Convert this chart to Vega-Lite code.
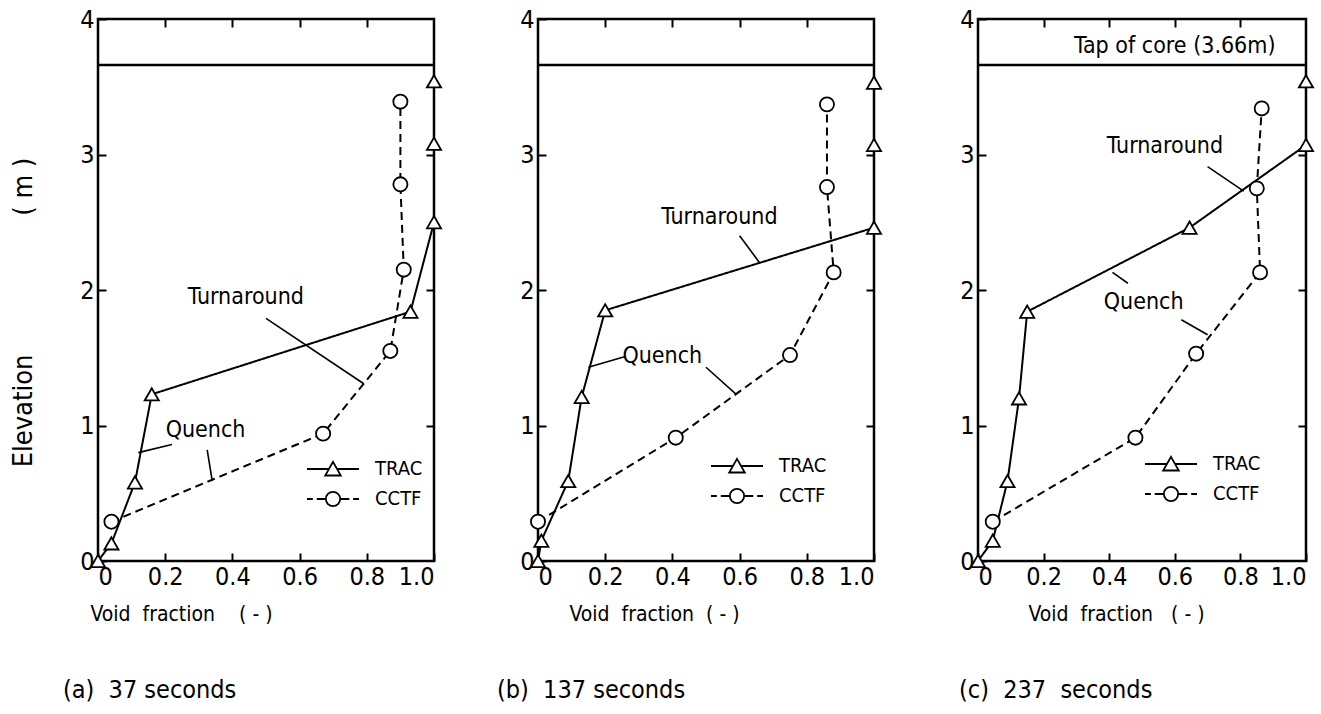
{
  "$schema": "https://vega.github.io/schema/vega-lite/v6.json",
  "background": "white",
  "padding": {"left": 7, "top": 5, "right": 5, "bottom": 5},
  "datasets": {
    "pts": [
      {"p": "a", "s": "TRAC", "v": 0.0, "e": 0.0},
      {"p": "a", "s": "TRAC", "v": 0.04, "e": 0.13},
      {"p": "a", "s": "TRAC", "v": 0.11, "e": 0.58},
      {"p": "a", "s": "TRAC", "v": 0.16, "e": 1.23},
      {"p": "a", "s": "TRAC", "v": 0.93, "e": 1.84},
      {"p": "a", "s": "TRAC", "v": 1.0, "e": 2.5},
      {"p": "a", "s": "TRAC", "v": 1.0, "e": 3.08},
      {"p": "a", "s": "TRAC", "v": 1.0, "e": 3.54},
      {"p": "a", "s": "CCTF", "v": 0.04, "e": 0.29},
      {"p": "a", "s": "CCTF", "v": 0.67, "e": 0.94},
      {"p": "a", "s": "CCTF", "v": 0.87, "e": 1.55},
      {"p": "a", "s": "CCTF", "v": 0.91, "e": 2.15},
      {"p": "a", "s": "CCTF", "v": 0.9, "e": 2.78},
      {"p": "a", "s": "CCTF", "v": 0.9, "e": 3.39},
      {"p": "b", "s": "TRAC", "v": 0.0, "e": 0.0},
      {"p": "b", "s": "TRAC", "v": 0.01, "e": 0.15},
      {"p": "b", "s": "TRAC", "v": 0.09, "e": 0.59},
      {"p": "b", "s": "TRAC", "v": 0.13, "e": 1.21},
      {"p": "b", "s": "TRAC", "v": 0.2, "e": 1.85},
      {"p": "b", "s": "TRAC", "v": 1.0, "e": 2.46},
      {"p": "b", "s": "TRAC", "v": 1.0, "e": 3.07},
      {"p": "b", "s": "TRAC", "v": 1.0, "e": 3.53},
      {"p": "b", "s": "CCTF", "v": 0.0, "e": 0.29},
      {"p": "b", "s": "CCTF", "v": 0.41, "e": 0.91},
      {"p": "b", "s": "CCTF", "v": 0.75, "e": 1.52},
      {"p": "b", "s": "CCTF", "v": 0.88, "e": 2.13},
      {"p": "b", "s": "CCTF", "v": 0.86, "e": 2.76},
      {"p": "b", "s": "CCTF", "v": 0.86, "e": 3.37},
      {"p": "c", "s": "TRAC", "v": 0.0, "e": 0.0},
      {"p": "c", "s": "TRAC", "v": 0.045, "e": 0.15},
      {"p": "c", "s": "TRAC", "v": 0.09, "e": 0.59},
      {"p": "c", "s": "TRAC", "v": 0.125, "e": 1.2},
      {"p": "c", "s": "TRAC", "v": 0.15, "e": 1.84},
      {"p": "c", "s": "TRAC", "v": 0.645, "e": 2.46},
      {"p": "c", "s": "TRAC", "v": 1.0, "e": 3.07},
      {"p": "c", "s": "TRAC", "v": 1.0, "e": 3.54},
      {"p": "c", "s": "CCTF", "v": 0.045, "e": 0.29},
      {"p": "c", "s": "CCTF", "v": 0.48, "e": 0.91},
      {"p": "c", "s": "CCTF", "v": 0.665, "e": 1.53},
      {"p": "c", "s": "CCTF", "v": 0.86, "e": 2.13},
      {"p": "c", "s": "CCTF", "v": 0.85, "e": 2.75},
      {"p": "c", "s": "CCTF", "v": 0.865, "e": 3.34}
    ],
    "notes": [
      {"p": "a", "t": "Turnaround", "v": 0.44, "e": 1.95},
      {"p": "a", "t": "Quench", "v": 0.32, "e": 0.97},
      {"p": "b", "t": "Turnaround", "v": 0.54, "e": 2.54},
      {"p": "b", "t": "Quench", "v": 0.37, "e": 1.51},
      {"p": "c", "t": "Tap of core (3.66m)", "v": 0.6, "e": 3.8},
      {"p": "c", "t": "Turnaround", "v": 0.57, "e": 3.06},
      {"p": "c", "t": "Quench", "v": 0.505, "e": 1.91}
    ],
    "arrows": [
      {"p": "a", "v": 0.5, "e": 1.79, "v2": 0.79, "e2": 1.31},
      {"p": "a", "v": 0.22, "e": 0.86, "v2": 0.12, "e2": 0.8},
      {"p": "a", "v": 0.325, "e": 0.82, "v2": 0.34, "e2": 0.59},
      {"p": "b", "v": 0.6, "e": 2.4, "v2": 0.66, "e2": 2.2},
      {"p": "b", "v": 0.26, "e": 1.51, "v2": 0.15, "e2": 1.43},
      {"p": "b", "v": 0.5, "e": 1.43, "v2": 0.59, "e2": 1.23},
      {"p": "c", "v": 0.7, "e": 2.91, "v2": 0.81, "e2": 2.73},
      {"p": "c", "v": 0.457, "e": 2.05, "v2": 0.41, "e2": 2.13},
      {"p": "c", "v": 0.62, "e": 1.78, "v2": 0.7, "e2": 1.67}
    ],
    "core": [
      {"p": "a", "e": 3.66},
      {"p": "b", "e": 3.66},
      {"p": "c", "e": 3.66}
    ]
  },
  "bounds": "flush",
  "spacing": 104,
  "hconcat": [
    {
      "width": 336, "height": 542,
      "title": {"text": "(a)\u00a0\u00a037\u00a0seconds", "orient": "bottom", "anchor": "start", "frame": "group", "dx": -35, "offset": 54},
      "layer": [
        {"data": {"name": "core"}, "transform": [{"filter": "datum.p == 'a'"}],
         "mark": {"type": "rule", "color": "black", "strokeWidth": 2.5},
         "encoding": {"y": {"field": "e", "type": "quantitative", "scale": {"domain": [0, 4], "nice": false}, "axis": null}}},
        {"data": {"name": "pts"}, "transform": [{"filter": "datum.p == 'a'"}],
         "mark": {"type": "line", "color": "black", "strokeWidth": 2},
         "encoding": {
           "x": {"field": "v", "type": "quantitative", "scale": {"domain": [0, 1], "nice": false},
                 "axis": {"orient": "bottom", "values": [0, 0.2, 0.4, 0.6, 0.8, 1], "labelExpr": "datum.value == 0 ? '0' : format(datum.value, '.1f')", "title": "Void\u00a0\u00a0fraction\u00a0\u00a0\u00a0\u00a0(\u00a0-\u00a0)", "titleX": 83, "titleY": 53, "titleAlign": "center", "titleBaseline": "middle"}},
           "y": {"field": "e", "type": "quantitative", "scale": {"domain": [0, 4], "nice": false},
                 "axis": {"orient": "left", "values": [0, 1, 2, 3, 4], "title": "Elevation\u00a0\u00a0\u00a0\u00a0\u00a0\u00a0\u00a0\u00a0\u00a0\u00a0\u00a0\u00a0\u00a0\u00a0\u00a0\u00a0\u00a0\u00a0(\u00a0m\u00a0)", "titleFontSize": 27, "titleX": -75, "titleY": 293, "titleAlign": "center", "titleBaseline": "middle", "titleAngle": -90}},
           "strokeDash": {"field": "s", "type": "nominal", "scale": {"domain": ["TRAC", "CCTF"], "range": [[1, 0], [8, 5]]}, "legend": null},
           "order": {"field": "e", "type": "quantitative"}
         }},
        {"data": {"name": "pts"}, "transform": [{"filter": "datum.p == 'a'"}],
         "mark": {"type": "point", "filled": true, "fill": "white", "stroke": "black", "strokeWidth": 1.8, "size": 200, "opacity": 1},
         "encoding": {
           "x": {"field": "v", "type": "quantitative", "axis": {"orient": "top", "values": [0.2, 0.4, 0.6, 0.8], "labels": false, "title": null}},
           "y": {"field": "e", "type": "quantitative", "axis": {"orient": "right", "values": [1, 2, 3], "labels": false, "title": null}},
           "shape": {"field": "s", "type": "nominal", "scale": {"domain": ["TRAC", "CCTF"], "range": ["triangle-up", "circle"]}, "legend": null}
         }},
        {"data": {"name": "pts"}, "transform": [{"filter": "false"}],
         "mark": {"type": "point", "filled": false, "color": "black", "strokeWidth": 1.8, "size": 676, "opacity": 1},
         "encoding": {
           "x": {"field": "v", "type": "quantitative", "axis": null},
           "y": {"field": "e", "type": "quantitative", "axis": null},
           "shape": {"field": "s", "type": "nominal", "scale": {"domain": ["TRAC", "CCTF"], "range": ["M-2,0H-0.31M0.31,0H2M0,-0.55L0.6,0.5L-0.6,0.5Z", "M-2,0H-1.55M-1.25,0H-0.55M0.55,0H1.25M1.55,0H2M0.55,0A0.55,0.55,0,1,1,-0.55,0A0.55,0.55,0,1,1,0.55,0Z"]},
                     "legend": {"orient": "none", "legendX": 221, "legendY": 436}}
         }},
        {"data": {"name": "notes"}, "transform": [{"filter": "datum.p == 'a'"}],
         "mark": {"type": "text", "fontSize": 23, "color": "black", "align": "center", "baseline": "middle"},
         "encoding": {"x": {"field": "v", "type": "quantitative", "axis": null}, "y": {"field": "e", "type": "quantitative", "axis": null}, "text": {"field": "t"}}},
        {"data": {"name": "arrows"}, "transform": [{"filter": "datum.p == 'a'"}],
         "mark": {"type": "rule", "color": "black", "strokeWidth": 1.6},
         "encoding": {"x": {"field": "v", "type": "quantitative", "axis": null}, "y": {"field": "e", "type": "quantitative", "axis": null}, "x2": {"field": "v2"}, "y2": {"field": "e2"}}}
      ],
      "resolve": {"axis": {"x": "independent", "y": "independent"}, "scale": {"shape": "independent"}, "legend": {"shape": "independent"}}
    },
    {
      "width": 336, "height": 542,
      "title": {"text": "(b)\u00a0\u00a0137\u00a0seconds", "orient": "bottom", "anchor": "start", "frame": "group", "dx": -41, "offset": 54},
      "layer": [
        {"data": {"name": "core"}, "transform": [{"filter": "datum.p == 'b'"}],
         "mark": {"type": "rule", "color": "black", "strokeWidth": 2.5},
         "encoding": {"y": {"field": "e", "type": "quantitative", "scale": {"domain": [0, 4], "nice": false}, "axis": null}}},
        {"data": {"name": "pts"}, "transform": [{"filter": "datum.p == 'b'"}],
         "mark": {"type": "line", "color": "black", "strokeWidth": 2},
         "encoding": {
           "x": {"field": "v", "type": "quantitative", "scale": {"domain": [0, 1], "nice": false},
                 "axis": {"orient": "bottom", "values": [0, 0.2, 0.4, 0.6, 0.8, 1], "labelExpr": "datum.value == 0 ? '0' : format(datum.value, '.1f')", "title": "Void\u00a0\u00a0fraction\u00a0\u00a0(\u00a0-\u00a0)", "titleX": 116, "titleY": 53, "titleAlign": "center", "titleBaseline": "middle"}},
           "y": {"field": "e", "type": "quantitative", "scale": {"domain": [0, 4], "nice": false},
                 "axis": {"orient": "left", "values": [0, 1, 2, 3, 4], "title": null}},
           "strokeDash": {"field": "s", "type": "nominal", "scale": {"domain": ["TRAC", "CCTF"], "range": [[1, 0], [8, 5]]}, "legend": null},
           "order": {"field": "e", "type": "quantitative"}
         }},
        {"data": {"name": "pts"}, "transform": [{"filter": "datum.p == 'b'"}],
         "mark": {"type": "point", "filled": true, "fill": "white", "stroke": "black", "strokeWidth": 1.8, "size": 200, "opacity": 1},
         "encoding": {
           "x": {"field": "v", "type": "quantitative", "axis": {"orient": "top", "values": [0.2, 0.4, 0.6, 0.8], "labels": false, "title": null}},
           "y": {"field": "e", "type": "quantitative", "axis": {"orient": "right", "values": [1, 2, 3], "labels": false, "title": null}},
           "shape": {"field": "s", "type": "nominal", "scale": {"domain": ["TRAC", "CCTF"], "range": ["triangle-up", "circle"]}, "legend": null}
         }},
        {"data": {"name": "pts"}, "transform": [{"filter": "false"}],
         "mark": {"type": "point", "filled": false, "color": "black", "strokeWidth": 1.8, "size": 676, "opacity": 1},
         "encoding": {
           "x": {"field": "v", "type": "quantitative", "axis": null},
           "y": {"field": "e", "type": "quantitative", "axis": null},
           "shape": {"field": "s", "type": "nominal", "scale": {"domain": ["TRAC", "CCTF"], "range": ["M-2,0H-0.31M0.31,0H2M0,-0.55L0.6,0.5L-0.6,0.5Z", "M-2,0H-1.55M-1.25,0H-0.55M0.55,0H1.25M1.55,0H2M0.55,0A0.55,0.55,0,1,1,-0.55,0A0.55,0.55,0,1,1,0.55,0Z"]},
                     "legend": {"orient": "none", "legendX": 185, "legendY": 433}}
         }},
        {"data": {"name": "notes"}, "transform": [{"filter": "datum.p == 'b'"}],
         "mark": {"type": "text", "fontSize": 23, "color": "black", "align": "center", "baseline": "middle"},
         "encoding": {"x": {"field": "v", "type": "quantitative", "axis": null}, "y": {"field": "e", "type": "quantitative", "axis": null}, "text": {"field": "t"}}},
        {"data": {"name": "arrows"}, "transform": [{"filter": "datum.p == 'b'"}],
         "mark": {"type": "rule", "color": "black", "strokeWidth": 1.6},
         "encoding": {"x": {"field": "v", "type": "quantitative", "axis": null}, "y": {"field": "e", "type": "quantitative", "axis": null}, "x2": {"field": "v2"}, "y2": {"field": "e2"}}}
      ],
      "resolve": {"axis": {"x": "independent", "y": "independent"}, "scale": {"shape": "independent"}, "legend": {"shape": "independent"}}
    },
    {
      "width": 328, "height": 542,
      "title": {"text": "(c)\u00a0\u00a0237\u00a0\u00a0seconds", "orient": "bottom", "anchor": "start", "frame": "group", "dx": -19, "offset": 54},
      "layer": [
        {"data": {"name": "core"}, "transform": [{"filter": "datum.p == 'c'"}],
         "mark": {"type": "rule", "color": "black", "strokeWidth": 2.5},
         "encoding": {"y": {"field": "e", "type": "quantitative", "scale": {"domain": [0, 4], "nice": false}, "axis": null}}},
        {"data": {"name": "pts"}, "transform": [{"filter": "datum.p == 'c'"}],
         "mark": {"type": "line", "color": "black", "strokeWidth": 2},
         "encoding": {
           "x": {"field": "v", "type": "quantitative", "scale": {"domain": [0, 1], "nice": false},
                 "axis": {"orient": "bottom", "values": [0, 0.2, 0.4, 0.6, 0.8, 1], "labelExpr": "datum.value == 0 ? '0' : format(datum.value, '.1f')", "title": "Void\u00a0\u00a0fraction\u00a0\u00a0\u00a0(\u00a0-\u00a0)", "titleX": 138, "titleY": 53, "titleAlign": "center", "titleBaseline": "middle"}},
           "y": {"field": "e", "type": "quantitative", "scale": {"domain": [0, 4], "nice": false},
                 "axis": {"orient": "left", "values": [0, 1, 2, 3, 4], "title": null}},
           "strokeDash": {"field": "s", "type": "nominal", "scale": {"domain": ["TRAC", "CCTF"], "range": [[1, 0], [8, 5]]}, "legend": null},
           "order": {"field": "e", "type": "quantitative"}
         }},
        {"data": {"name": "pts"}, "transform": [{"filter": "datum.p == 'c'"}],
         "mark": {"type": "point", "filled": true, "fill": "white", "stroke": "black", "strokeWidth": 1.8, "size": 200, "opacity": 1},
         "encoding": {
           "x": {"field": "v", "type": "quantitative", "axis": {"orient": "top", "values": [0.2, 0.4, 0.6, 0.8], "labels": false, "title": null}},
           "y": {"field": "e", "type": "quantitative", "axis": {"orient": "right", "values": [1, 2, 3], "labels": false, "title": null}},
           "shape": {"field": "s", "type": "nominal", "scale": {"domain": ["TRAC", "CCTF"], "range": ["triangle-up", "circle"]}, "legend": null}
         }},
        {"data": {"name": "pts"}, "transform": [{"filter": "false"}],
         "mark": {"type": "point", "filled": false, "color": "black", "strokeWidth": 1.8, "size": 676, "opacity": 1},
         "encoding": {
           "x": {"field": "v", "type": "quantitative", "axis": null},
           "y": {"field": "e", "type": "quantitative", "axis": null},
           "shape": {"field": "s", "type": "nominal", "scale": {"domain": ["TRAC", "CCTF"], "range": ["M-2,0H-0.31M0.31,0H2M0,-0.55L0.6,0.5L-0.6,0.5Z", "M-2,0H-1.55M-1.25,0H-0.55M0.55,0H1.25M1.55,0H2M0.55,0A0.55,0.55,0,1,1,-0.55,0A0.55,0.55,0,1,1,0.55,0Z"]},
                     "legend": {"orient": "none", "legendX": 179, "legendY": 431}}
         }},
        {"data": {"name": "notes"}, "transform": [{"filter": "datum.p == 'c'"}],
         "mark": {"type": "text", "fontSize": 23, "color": "black", "align": "center", "baseline": "middle"},
         "encoding": {"x": {"field": "v", "type": "quantitative", "axis": null}, "y": {"field": "e", "type": "quantitative", "axis": null}, "text": {"field": "t"}}},
        {"data": {"name": "arrows"}, "transform": [{"filter": "datum.p == 'c'"}],
         "mark": {"type": "rule", "color": "black", "strokeWidth": 1.6},
         "encoding": {"x": {"field": "v", "type": "quantitative", "axis": null}, "y": {"field": "e", "type": "quantitative", "axis": null}, "x2": {"field": "v2"}, "y2": {"field": "e2"}}}
      ],
      "resolve": {"axis": {"x": "independent", "y": "independent"}, "scale": {"shape": "independent"}, "legend": {"shape": "independent"}}
    }
  ],
  "config": {
    "font": "DejaVu Sans Condensed",
    "view": {"stroke": "black", "strokeWidth": 2.5},
    "axis": {"domain": false, "grid": false, "ticks": true, "tickColor": "black", "tickWidth": 2, "tickSize": -8, "labelColor": "black", "labelFontSize": 25, "labelPadding": 11, "titleFontSize": 21, "titleFontWeight": "normal", "titleColor": "black", "labelFont": "DejaVu Sans Condensed", "titleFont": "DejaVu Sans Condensed"},
    "axisLeft": {"labelPadding": 12},
    "title": {"fontSize": 25, "fontWeight": "normal", "color": "black", "font": "DejaVu Sans Condensed"},
    "legend": {"title": null, "labelFontSize": 20, "labelColor": "black", "labelFont": "DejaVu Sans Condensed", "symbolSize": 676, "symbolStrokeWidth": 1.8, "symbolStrokeColor": "black", "labelOffset": 28, "rowPadding": 5, "padding": 0}
  }
}
